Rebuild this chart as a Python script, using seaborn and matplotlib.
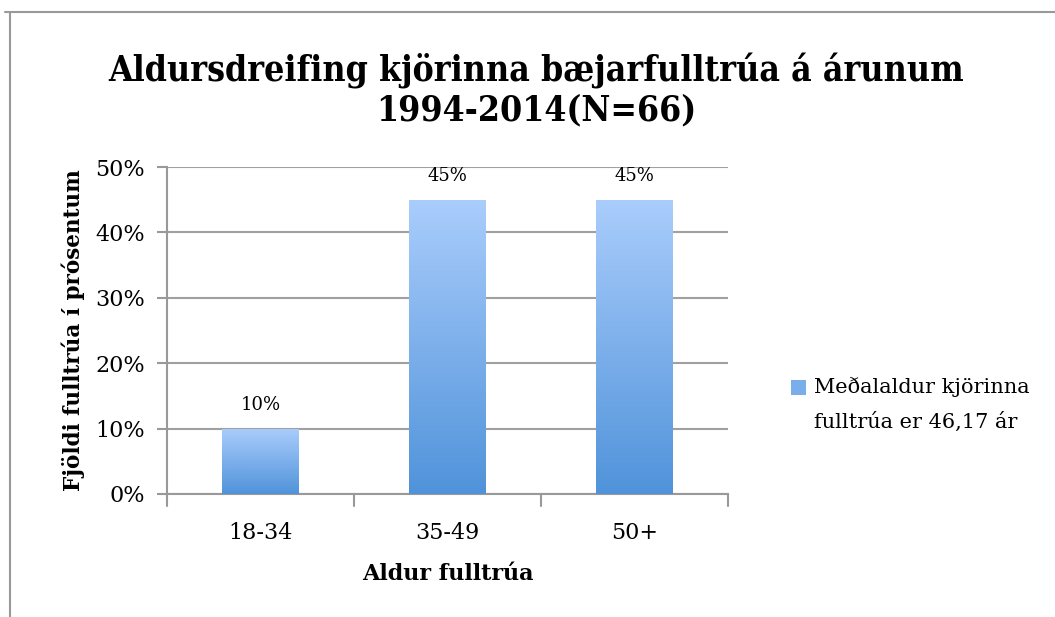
import numpy as np
import pandas as pd
import matplotlib
matplotlib.use("Agg")
import matplotlib.pyplot as plt
import seaborn as sns
from matplotlib.lines import Line2D
from matplotlib.patches import Patch, Rectangle
from matplotlib.legend_handler import HandlerPatch
from matplotlib.colors import LinearSegmentedColormap

categories = ["18-34", "35-49", "50+"]
values = [10, 45, 45]
bar_labels = ["10%", "45%", "45%"]
yticks = [0, 10, 20, 30, 40, 50]
ytick_labels = ["0%", "10%", "20%", "30%", "40%", "50%"]
title = "Aldursdreifing kjörinna bæjarfulltrúa á árunum\n1994-2014(N=66)"
xlabel = "Aldur fulltrúa"
ylabel = "Fjöldi fulltrúa í prósentum"
legend_label = "Meðalaldur kjörinna\nfulltrúa er 46,17 ár"

sns.set_theme(style="white")
plt.rcParams['font.family'] = ['DejaVu Serif', 'DejaVu Sans']
plt.rcParams['text.color'] = 'black'
plt.rcParams['axes.labelcolor'] = 'black'
plt.rcParams['xtick.color'] = 'black'
plt.rcParams['ytick.color'] = 'black'

df = pd.DataFrame({"cat": categories, "val": values})

fig = plt.figure(figsize=(10.55, 6.17), dpi=100)
ax = fig.add_axes([167/1055, 1-494/617, (728-167)/1055, (494-167)/617])

sns.barplot(data=df, x="cat", y="val", ax=ax, width=0.41, color="#7aaeeb",
            saturation=1, zorder=3)

ax.set_ylim(0, 50)
ax.set_xlim(-0.5, 2.5)
ax.set_yticks(yticks)
ax.set_yticklabels(ytick_labels, fontsize=16)
ax.tick_params(axis='x', labelsize=16, pad=14, bottom=False)
ax.tick_params(axis='y', direction='out', length=7, width=1.5, color='#999999',
               left=True, pad=9)
ax.yaxis.grid(True, color='#a0a0a0', linewidth=1.5, zorder=0)
ax.set_axisbelow(True)
for s in ['top', 'right']:
    ax.spines[s].set_visible(False)
ax.spines['left'].set_color('#999999')
ax.spines['left'].set_linewidth(1.5)
ax.spines['bottom'].set_color('#999999')
ax.spines['bottom'].set_linewidth(1.5)

# x category boundary ticks
for xb in [-0.5, 0.5, 1.5, 2.5]:
    ax.plot([xb, xb], [0, -0.036], transform=ax.get_xaxis_transform(),
            color='#999999', lw=1.5, clip_on=False)

# gradient fill per bar
cmap = LinearSegmentedColormap.from_list("g", ["#5093da", "#aacdfc"])
grad = np.linspace(0, 1, 256).reshape(-1, 1)
for p, lab in zip(ax.patches, bar_labels):
    x0, y0, w, h = p.get_x(), p.get_y(), p.get_width(), p.get_height()
    im = ax.imshow(grad, extent=[x0, x0 + w, y0, y0 + h], origin='lower',
                   cmap=cmap, aspect='auto', zorder=3.5, interpolation='bicubic')
    im.set_clip_path(p)
    p.set_facecolor('none')
    p.set_edgecolor('none')
    ax.text(x0 + w / 2, y0 + h + 2.2, lab, ha='center', va='bottom', fontsize=13)

ax.set_xlabel(xlabel, fontsize=16, fontweight='bold', labelpad=14)
ax.set_ylabel(ylabel, fontsize=15.5, fontweight='bold', labelpad=7)

fig.text(536/1055, 1-90/617, title, ha='center', va='center', fontsize=25.5,
         fontweight='bold', linespacing=1.15,
         family=['DejaVu Serif Condensed', 'DejaVu Serif'], fontstretch='condensed')


def raised_square(legend, orig_handle, xdescent, ydescent, width, height, fontsize):
    return Rectangle((-xdescent, -ydescent + 12.5), width, height)


handle = Patch(facecolor="#7aaeeb", edgecolor='none')
leg = fig.legend([handle], [legend_label], loc='upper left',
                 bbox_to_anchor=(772/1055, 1-358/617), frameon=False, fontsize=15,
                 handlelength=0.75, handleheight=0.75, handletextpad=0.35,
                 handler_map={Patch: HandlerPatch(patch_func=raised_square)})
for t in leg.get_texts():
    t.set_linespacing(1.95)

# outer chart frame
fig.add_artist(Line2D([5/1055, 1], [1-12/617, 1-12/617], transform=fig.transFigure,
                      color='#999999', lw=1.5))
fig.add_artist(Line2D([10/1055, 10/1055], [0, 1-12/617], transform=fig.transFigure,
                      color='#999999', lw=1.5))

fig.savefig("out.png", dpi=100, facecolor='white')
